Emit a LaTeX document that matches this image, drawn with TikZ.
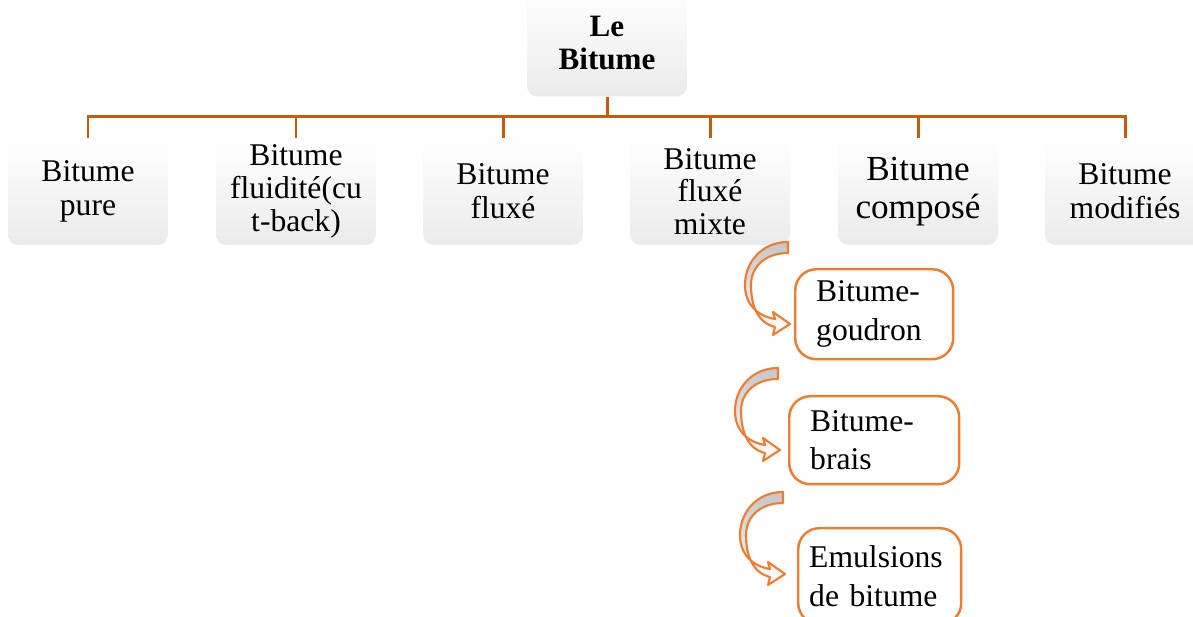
\documentclass[tikz,border=0pt]{standalone}
\usepackage{fontspec}
\setmainfont{Liberation Serif}
\definecolor{lineC}{RGB}{197,90,17}
\definecolor{orgC}{RGB}{237,125,49}
\begin{document}
\begin{tikzpicture}[x=0.02cm,y=-0.02cm,
 gbox/.style={rounded corners=6, minimum width=3.2cm, minimum height=2.14cm,
   top color=white, middle color=white, bottom color=gray!16,
   align=center, inner sep=2pt, font=\fontsize{18}{19.5}\selectfont},
 obox/.style={draw=orgC, line width=1.4pt, rounded corners=12, fill=white,
   align=left, font=\fontsize{18}{22}\selectfont, anchor=north west, inner ysep=2pt},
 conn/.style={draw=lineC, line width=1.7pt},
 carrow/.style={draw=orgC, line width=1.2pt, top color=gray!45, bottom color=white, line join=round},
 carr/.pic={\draw[carrow] (0,0) .. controls (-26,0) and (-43,20) .. (-43,43)
    .. controls (-43,62) and (-31,74) .. (-13,77) -- (-15,70) -- (2,82) -- (-15,93) -- (-13,85)
    .. controls (-30,81) and (-37,64) .. (-37,43)
    .. controls (-37,24) and (-22,11) .. (0,11) -- cycle;}
]
\useasboundingbox (0,0) rectangle (1193,617);
\clip (0,0) rectangle (1193,617);

% top node
\node[gbox, font=\bfseries\fontsize{17.7}{19}\selectfont] (top) at (607,43) {Le\\Bitume};

% children
\node[gbox] (c1) at (88,191.5) {Bitume\\pure};
\node[gbox, font=\fontsize{18}{18.6}\selectfont] (c2) at (296,191.5) {Bitume\\fluidité(cu\\t-back)};
\node[gbox] (c3) at (503,191.5) {Bitume\\fluxé};
\node[gbox, font=\fontsize{18}{18.6}\selectfont] (c4) at (710,191.5) {Bitume\\fluxé\\mixte};
\node[gbox, font=\fontsize{20}{22}\selectfont] (c5) at (918,191.5) {Bitume\\composé};
\node[gbox] (c6) at (1125,191.5) {Bitume\\modifiés};

% connectors
\coordinate (bus) at (607,117);
\draw[conn] (top.south) -- (bus);
\draw[conn, line cap=rect] (bus -| c1.north) -- (bus -| c6.north);
\foreach \c in {c1,c2,c3,c4,c5,c6}{
  \draw[conn] (bus -| \c.north) -- (\c.north);
}

% orange boxes
\node[obox, minimum height=1.8cm, text width=2.32cm, inner xsep=0.42cm] (o1) at (794,268) {Bitume-\\goudron};
\node[obox, minimum height=1.76cm, text width=2.56cm, inner xsep=0.42cm] (o2) at (788,395) {Bitume-\\brais};
\node[obox, minimum height=1.92cm, text width=2.82cm, inner xsep=0.22cm] (o3) at (797,527) {Emulsions\\de bitume};

% curved arrows
\coordinate (a1) at (788,242);
\coordinate (a2) at (778,368);
\coordinate (a3) at (783,492);
\pic at (a1) {carr};
\pic at (a2) {carr};
\pic at (a3) {carr};
\end{tikzpicture}
\end{document}
